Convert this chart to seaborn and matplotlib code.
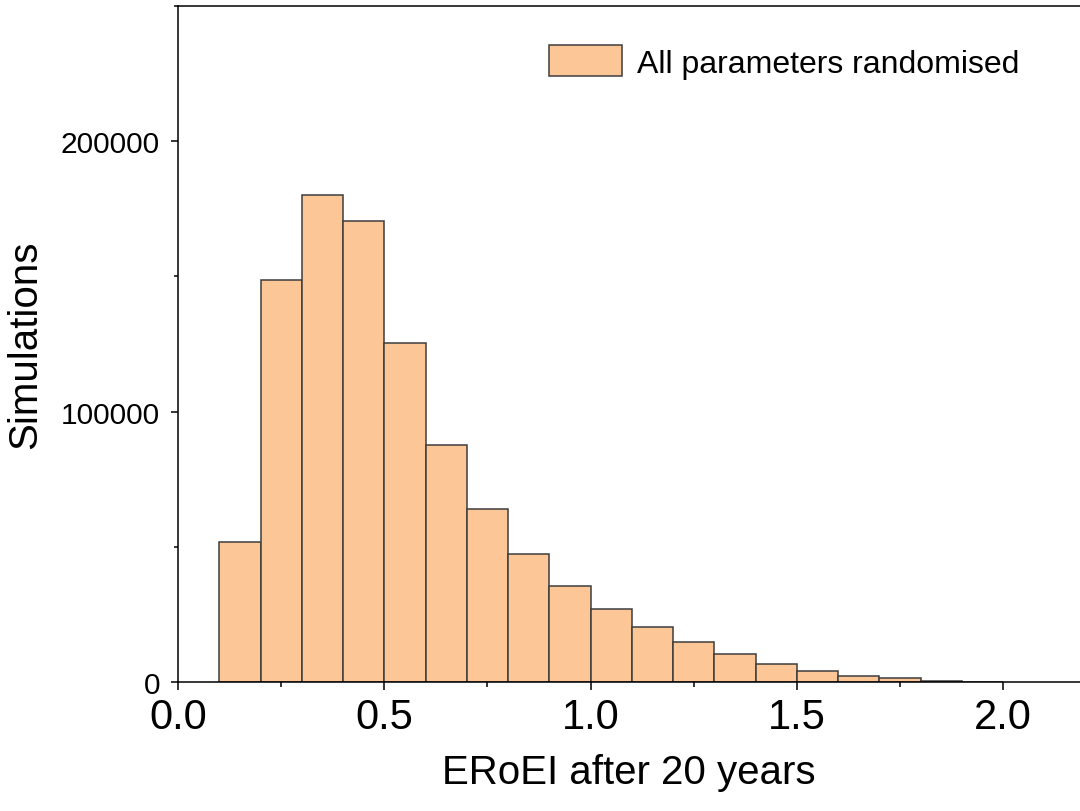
import numpy as np
import pandas as pd
import seaborn as sns
import matplotlib.pyplot as plt
from matplotlib.ticker import MultipleLocator

# histogram bins (ERoEI after 20 years) and simulation counts per bin
bin_edges = [0.1, 0.2, 0.3, 0.4, 0.5, 0.6, 0.7, 0.8, 0.9, 1.0, 1.1,
             1.2, 1.3, 1.4, 1.5, 1.6, 1.7, 1.8, 1.9, 2.0]
counts = [51800, 148600, 180000, 170300, 125400, 87800, 64000, 47300, 35400,
          27000, 20300, 14800, 10400, 6600, 4100, 2200, 1600, 500, 100]
series_label = "All parameters randomised"

df = pd.DataFrame({"eroei": bin_edges[:-1], "sims": counts})

sns.set_style("ticks")
plt.rcParams["font.family"] = ["Liberation Sans", "DejaVu Sans"]
plt.rcParams["text.color"] = "black"
plt.rcParams["axes.labelcolor"] = "black"
plt.rcParams["xtick.color"] = "black"
plt.rcParams["ytick.color"] = "black"

fig = plt.figure(figsize=(10.8, 8.12), dpi=100)
ax = fig.add_axes([0.1648, 0.1589, 0.8352, 0.8325])

sns.histplot(data=df, x="eroei", weights="sims", bins=bin_edges, ax=ax,
             color="#FDC696", alpha=1, edgecolor="#3d3d3d", linewidth=1.1,
             label=series_label)

ax.set_xlim(0, 2.186)
ax.set_ylim(0, 250000)
ax.xaxis.set_major_locator(MultipleLocator(0.5))
ax.xaxis.set_minor_locator(MultipleLocator(0.25))
ax.yaxis.set_major_locator(MultipleLocator(100000))
ax.yaxis.set_minor_locator(MultipleLocator(50000))
ax.xaxis.set_major_formatter(plt.FuncFormatter(lambda v, p: f"{v:.1f}"))

ax.tick_params(axis="x", which="major", length=6, width=1.1, labelsize=30, pad=5)
ax.tick_params(axis="x", which="minor", length=3.5, width=1.1)
ax.tick_params(axis="y", which="major", length=5, width=1.1, labelsize=21.5, pad=8)
ax.tick_params(axis="y", which="minor", length=3, width=1.1)

for side in ["left", "bottom", "top"]:
    ax.spines[side].set_linewidth(1.1)
    ax.spines[side].set_color("black")
ax.spines["right"].set_visible(False)

ax.set_xlabel("ERoEI after 20 years", fontsize=29, labelpad=11)
ax.set_ylabel("Simulations", fontsize=29, labelpad=12)

ax.legend(loc="center left", bbox_to_anchor=(0.394, 0.917), frameon=False,
          fontsize=23, borderpad=0, handlelength=2.28, handleheight=1.1,
          handletextpad=0.45)

fig.savefig("out.png", dpi=100)
